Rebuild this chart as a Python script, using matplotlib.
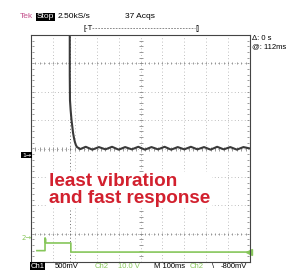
import numpy as np
import matplotlib
matplotlib.use("Agg")
import matplotlib.pyplot as plt
from matplotlib.lines import Line2D

# screen is 10 x 8 divisions, time in ms (100 ms/div), level in divisions
ch1_t = [177, 177, 178, 181, 185, 189, 192, 196, 200, 205, 210,
         225, 250, 280, 310, 340, 370, 400, 430, 460, 490, 520, 550,
         580, 610, 640, 670, 700, 730, 760, 790, 820, 850, 880, 910,
         940, 970, 1000]
ch1_v = [4.2, 2.6, 1.7, 1.35, 1.0, 0.75, 0.55, 0.38, 0.24, 0.12, 0.05,
         -0.02, 0.06, -0.04, 0.05, -0.03, 0.06, -0.04, 0.05, -0.03, 0.06, -0.04, 0.05,
         -0.03, 0.06, -0.04, 0.05, -0.03, 0.06, -0.03, 0.05, -0.04, 0.06, -0.03, 0.05,
         -0.04, 0.05, 0.0]

ch2_t = [27, 64, 64, 67, 67, 182, 182, 1000]
ch2_v = [-3.6, -3.6, -3.15, -3.2, -3.33, -3.33, -3.65, -3.65]

trig_t = 178
ch1_ref = -0.23
ch2_ref = -3.15

header = [("Tek", "#c4508c", None), ("Stop", "white", "black"),
          ("2.50kS/s", "black", None)]
footer = [(0.105, "Ch1", "white", "black"), (0.19, "500mV", "black", None),
          (0.33, "Ch2", "#86c65a", None), (0.41, "10.0 V", "#86c65a", None),
          (0.535, "M 100ms", "black", None), (0.66, "Ch2", "#86c65a", None),
          (0.735, "\\", "black", None), (0.765, "-800mV", "black", None)]

fig = plt.figure(figsize=(2.88, 2.71), dpi=100)
ax = fig.add_axes([31 / 288, 1 - 262 / 271, 219 / 288, 227 / 271])
ax.set_xlim(0, 1000)
ax.set_ylim(-4, 4)
ax.set_xticks([])
ax.set_yticks([])
for s in ax.spines.values():
    s.set_color("#444444")
    s.set_linewidth(0.8)

# graticule
grid_kw = dict(color="#aaaaaa", lw=0.6, ls=(0, (1, 3)))
for gx in range(100, 1000, 100):
    ax.axvline(gx, **grid_kw)
for gy in range(-3, 4):
    ax.axhline(gy, **grid_kw)
minor_x = np.arange(0, 1001, 20)
minor_y = np.arange(-4, 4.01, 0.2)
ax.plot(minor_x, np.zeros_like(minor_x), "|", color="#888888", ms=3, mew=0.6)
ax.plot(np.full_like(minor_y, 500), minor_y, "_", color="#888888", ms=3, mew=0.6)
ax.plot(minor_x, np.full_like(minor_x, -3.97), "|", color="#888888", ms=2, mew=0.6)
ax.plot(minor_x, np.full_like(minor_x, 3.97), "|", color="#888888", ms=2, mew=0.6)
ax.plot(np.full_like(minor_y, 8), minor_y, "_", color="#888888", ms=2, mew=0.6)
ax.plot(np.full_like(minor_y, 992), minor_y, "_", color="#888888", ms=2, mew=0.6)
ax.axvline(trig_t, color="#666666", lw=0.7, ls=(0, (1, 2.5)))

ax.plot(ch2_t, ch2_v, color="#86c65a", lw=1.2, clip_on=False)
ax.plot(ch1_t, ch1_v, color="#3a3a3a", lw=1.5)
ax.plot([995], [ch2_v[-1]], marker="<", color="#86c65a", ms=4, clip_on=False)

ax.text(82, -0.88, "least vibration\nand fast response", color="#d2202e",
        fontsize=13.6, fontweight="bold", family="Liberation Sans",
        linespacing=0.93, va="top", ha="left",
        bbox=dict(facecolor="white", edgecolor="none", pad=1))

# channel reference markers
fig.text(22 / 288, ax.transData.transform((0, ch1_ref))[1] / 271, "1\u2192",
         fontsize=4.5, color="white", va="center", ha="left",
         bbox=dict(facecolor="black", edgecolor="none", pad=0.6))
fig.text(22 / 288, ax.transData.transform((0, ch2_ref))[1] / 271, "2\u2192",
         fontsize=5, color="#86c65a", va="center", ha="left")

# header
x = 20 / 288
for txt, col, bg in header:
    t = fig.text(x, 1 - 17 / 271, txt, fontsize=6, color=col, va="center",
                 family="Liberation Sans",
                 bbox=dict(facecolor=bg, edgecolor="none", pad=0.5) if bg else None)
    fig.canvas.draw()
    x += t.get_window_extent().width / 288 + 0.012
fig.text(125 / 288, 1 - 17 / 271, "37 Acqs", fontsize=6, va="center",
         family="Liberation Sans")
fig.text(83 / 288, 1 - 28 / 271, "[-T", fontsize=5.5, va="center",
         family="Liberation Sans")
fig.text(195 / 288, 1 - 28 / 271, "|]", fontsize=5.5, va="center",
         family="Liberation Sans")
fig.add_artist(Line2D([92 / 288, 195 / 288], [1 - 28 / 271, 1 - 28 / 271],
                      color="#777777", lw=0.6, ls=(0, (2, 1.5))))
fig.text(252 / 288, 1 - 39 / 271, "\u0394: 0 s", fontsize=5.5, va="center",
         family="Liberation Sans")
fig.text(252 / 288, 1 - 47 / 271, "@: 112ms", fontsize=5.5, va="center",
         family="Liberation Sans")

# footer
for fx, txt, col, bg in footer:
    fig.text(fx, 1 - 266 / 271, txt, fontsize=5.5, color=col, va="center",
             family="Liberation Sans",
             bbox=dict(facecolor=bg, edgecolor="none", pad=0.5) if bg else None)

fig.savefig("out.png", dpi=100)
